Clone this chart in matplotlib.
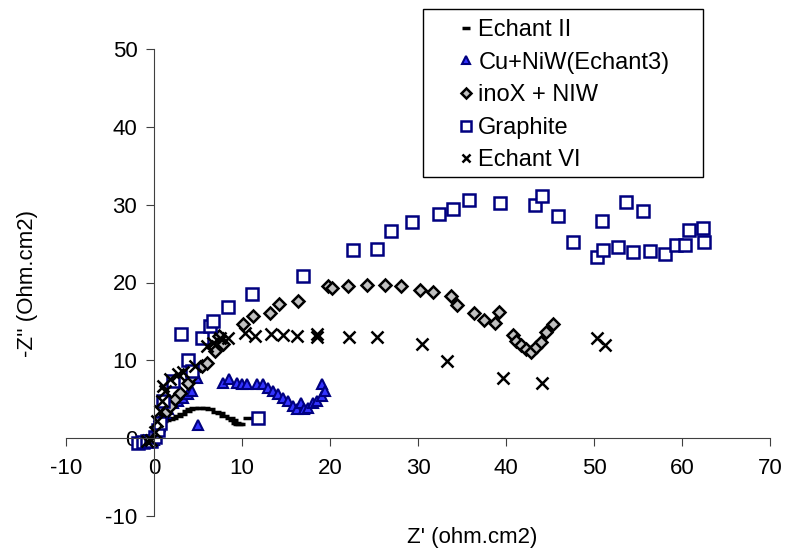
import numpy as np
import matplotlib.pyplot as plt
from matplotlib.patches import Rectangle

plt.rcParams['font.family'] = ['Liberation Sans', 'DejaVu Sans']
plt.rcParams['axes.unicode_minus'] = False

# Echant II
x_e2 = [-1.5, -1.0, -0.6, -0.3, 0.0, 0.1, 0.2, 0.3, 0.4, 0.5, 0.7, 1.0, 1.4, 1.8, 2.2, 2.7, 3.2,
        3.7, 4.1, 4.6, 5.2, 5.8, 6.4, 7.0, 7.5, 8.0, 8.6, 9.0, 9.3, 9.5, 9.8, 10.7]
y_e2 = [-0.4, -0.3, -0.3, -0.2, 0.0, 0.4, 0.8, 1.2, 1.5, 1.8, 2.0, 2.2, 2.3, 2.4, 2.6, 2.8, 3.1,
        3.5, 3.7, 3.85, 3.9, 3.85, 3.7, 3.4, 3.2, 2.9, 2.6, 2.3, 2.0, 1.8, 1.85, 2.6]

# Cu+NiW(Echant3)
x_cu = [-1.6, -1.2, -0.8, -0.4, 0.0, 0.1, 0.3, 0.6, 0.9, 1.2, 1.6, 2.2, 2.7, 3.3, 3.9, 4.3, 4.9,
        5.0, 7.8, 8.5, 9.4, 10.0, 10.6, 11.7, 12.4, 13.0, 13.5, 14.1, 14.7, 15.2, 15.8, 16.25,
        16.7, 17.0, 17.5, 18.1, 18.5, 19.1, 19.1, 19.4]
y_cu = [-0.5, -0.4, -0.5, -0.3, -0.2, 0.3, 0.9, 1.6, 2.8, 3.2, 3.7, 4.5, 4.8, 5.1, 5.7, 6.0, 7.7,
        1.7, 7.1, 7.6, 7.1, 6.9, 6.9, 6.9, 6.9, 6.4, 6.0, 5.7, 5.1, 4.8, 4.1, 3.7,
        4.5, 3.7, 3.9, 4.5, 4.8, 5.4, 6.9, 6.0]

# inoX + NIW
x_ino = [-1.2, -0.6, 0.0, 0.2, 0.4, 0.7, 1.2, 1.8, 2.4, 3.0, 3.86, 4.3, 5.45, 6.0, 6.9, 7.8, 7.4,
         10.1, 11.25, 13.2, 14.2, 16.4, 19.8, 20.2, 22.0, 24.2, 26.25, 28.1, 30.2, 31.7, 33.75,
         34.4, 36.4, 37.5, 38.75, 39.2, 40.8, 41.1, 41.7, 42.3, 42.8, 43.4, 44.0, 44.5, 45.3]
y_ino = [-0.3, -0.3, -0.1, 0.4, 0.9, 2.2, 3.2, 4.1, 5.0, 5.8, 7.1, 8.0, 9.3, 9.7, 11.2, 12.1, 13.1,
         14.7, 15.7, 16.1, 17.2, 17.6, 19.6, 19.3, 19.6, 19.7, 19.7, 19.6, 19.0, 18.8, 18.3,
         17.1, 16.1, 15.2, 14.8, 16.2, 13.3, 12.5, 12.0, 11.5, 11.1, 11.7, 12.4, 13.6, 14.7]

# Graphite
x_gr = [-1.8, -1.3, -0.8, -0.3, 0.1, 0.4, 0.7, 1.0, 2.2, 3.07, 3.86, 4.3, 5.45, 6.36, 6.7, 8.4,
        11.1, 16.9, 22.6, 25.3, 26.9, 29.3, 32.4, 34.0, 35.8, 39.3, 43.3, 44.1, 45.9, 47.6,
        50.9, 50.3, 51.0, 52.7, 53.6, 55.6, 54.4, 56.4, 58.1, 59.3, 60.3, 60.8, 62.4, 62.5, 11.8]
y_gr = [-0.6, -0.5, -0.4, -0.3, 0.2, 1.0, 2.0, 4.8, 7.3, 13.4, 10.0, 8.6, 12.9, 14.4, 15.1, 16.9,
        18.5, 20.8, 24.2, 24.3, 26.6, 27.8, 28.8, 29.5, 30.6, 30.2, 29.9, 31.1, 28.6, 25.2,
        27.9, 23.3, 24.2, 24.5, 30.4, 29.2, 23.9, 24.1, 23.7, 24.8, 24.8, 26.8, 27.0, 25.2, 2.6]

# Echant VI
x_e6 = [-0.8, -0.3, 0.1, 0.3, 0.7, 0.9, 1.25, 1.0, 1.8, 2.7, 3.3, 4.7, 6.0, 6.7, 7.5, 8.4, 10.3,
        11.5, 13.3, 14.7, 16.25, 18.5, 18.5, 22.2, 25.3, 30.5, 33.3, 39.7, 44.1, 50.3, 51.25]
y_e6 = [-0.3, -0.2, 0.8, 2.2, 3.5, 4.8, 6.0, 6.7, 7.6, 8.2, 8.5, 9.3, 11.8, 12.2, 12.9, 12.9, 13.5,
        13.1, 13.4, 13.3, 13.1, 13.4, 13.0, 13.0, 13.0, 12.1, 9.9, 7.7, 7.1, 12.9, 12.0]

W, H = 790, 549
fig = plt.figure(figsize=(W / 100, H / 100), dpi=100)
ax = fig.add_axes([66 / W, 33 / H, 704 / W, 467 / H])

ax.plot(x_e2, y_e2, ls='none', marker='_', ms=7, mew=2.5, color='black', label='Echant II')
ax.plot(x_cu, y_cu, ls='none', marker='^', ms=7, mew=1.5, mfc='#3333ff', mec='#000080',
        label='Cu+NiW(Echant3)')
ax.plot(x_ino, y_ino, ls='none', marker='D', ms=6.5, mew=1.8, mfc='#c0c0c0', mec='black',
        label='inoX + NIW')
ax.plot(x_gr, y_gr, ls='none', marker='s', ms=8.5, mew=1.8, mfc='white', mec='#000080',
        label='Graphite')
ax.plot(x_e6, y_e6, ls='none', marker='x', ms=8, mew=1.8, color='black', label='Echant VI')

ax.set_xlim(-10, 70)
ax.set_ylim(-10, 50)
ax.set_xticks(np.arange(-10, 71, 10))
ax.set_yticks(np.arange(-10, 51, 10))
ax.spines['left'].set_position(('data', 0))
ax.spines['bottom'].set_position(('data', 0))
ax.spines['top'].set_visible(False)
ax.spines['right'].set_visible(False)
for s in ('left', 'bottom'):
    ax.spines[s].set_color('#404040')
ax.tick_params(direction='out', length=6, color='#404040', labelsize=16)
ax.tick_params(axis='y', pad=6)
ax.tick_params(axis='x', pad=8)
ax.patch.set_alpha(0)

fig.text(28 / W, 1 - 283 / H, "-Z'' (Ohm.cm2)", rotation=90, ha='center', va='center', fontsize=16)
fig.text(472 / W, 1 - 537 / H, "Z' (ohm.cm2)", ha='center', va='center', fontsize=16)

# legend box drawn separately so the entries sit inside a wider frame
fig.patches.append(Rectangle((423 / W, 1 - 177 / H), 280 / W, 168 / H, transform=fig.transFigure,
                             fill=False, edgecolor='black', lw=1))
leg = ax.legend(loc='upper left', bbox_to_anchor=(457 / W, 1 - 19 / H), bbox_transform=fig.transFigure,
                fontsize=17, frameon=False, handlelength=0.75, handletextpad=0.15, borderpad=0,
                labelspacing=0.45, borderaxespad=0, markerscale=0.8)

fig.savefig('out.png', dpi=100)
